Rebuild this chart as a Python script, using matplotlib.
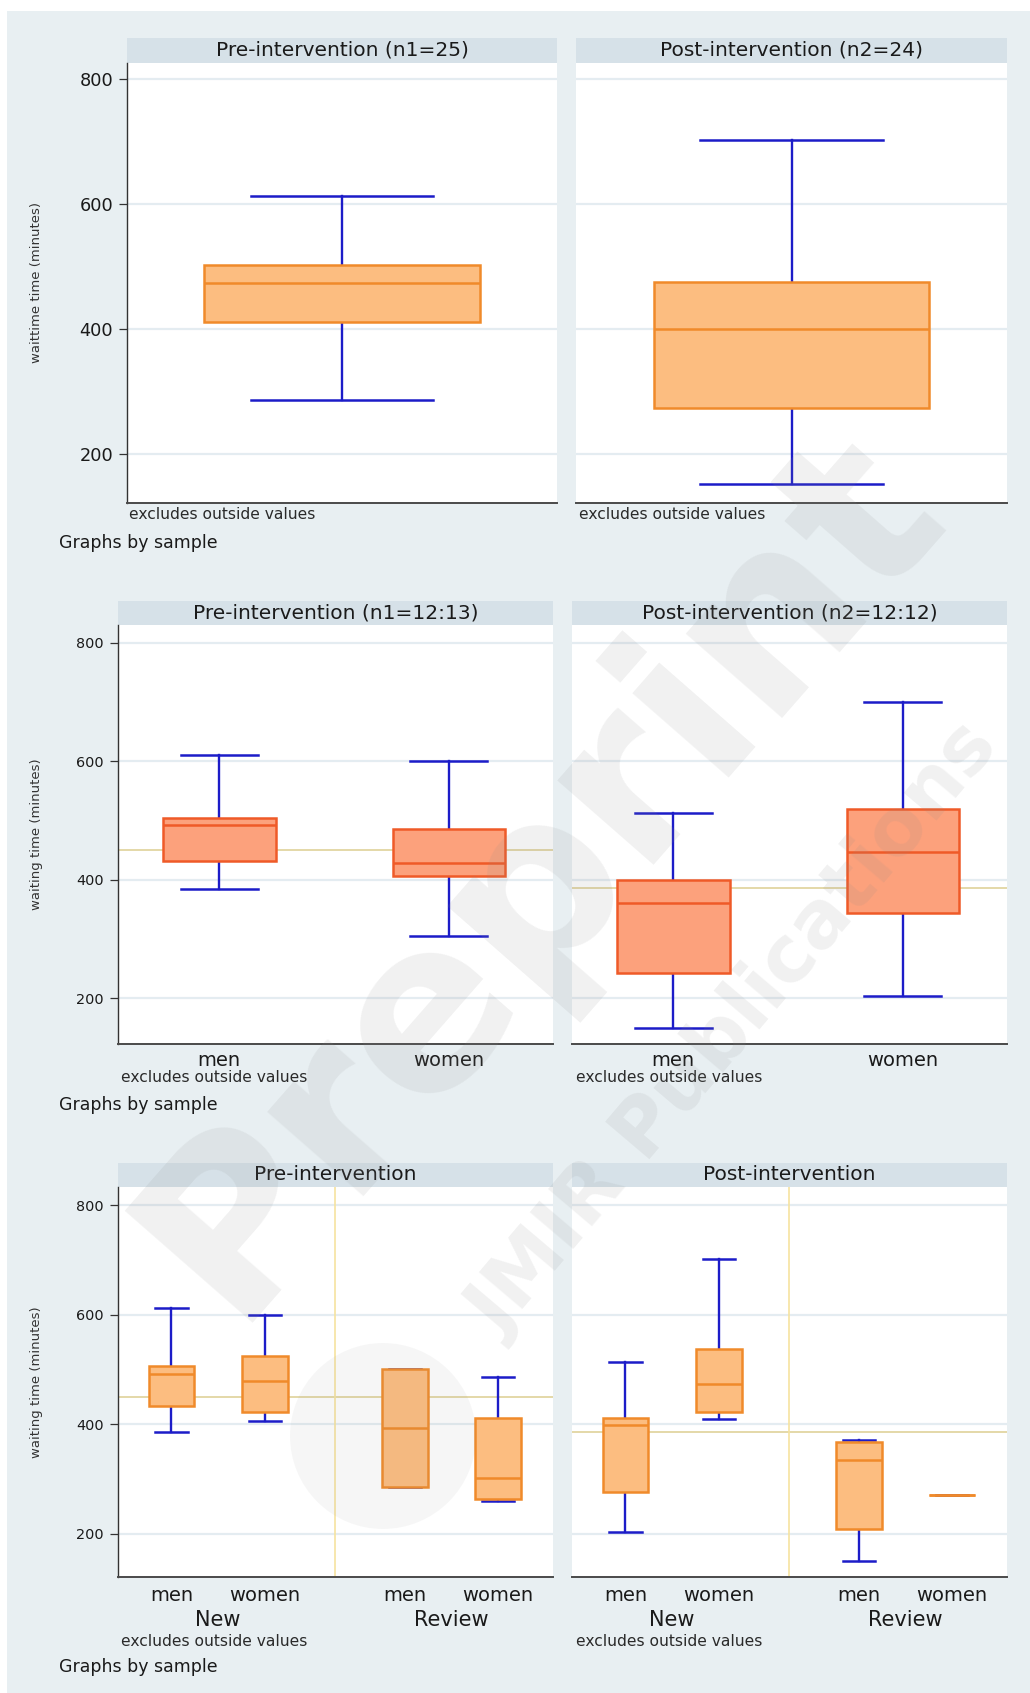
import matplotlib
matplotlib.use("Agg")
import matplotlib.pyplot as plt
from matplotlib.patches import Rectangle, Ellipse
from matplotlib.transforms import blended_transform_factory

W, H = 1030, 1693

# ---- waiting time summaries (minutes) ----
# overall, by sample
titles_all = ["Pre-intervention (n1=25)", "Post-intervention (n2=24)"]
lo_all = [286, 153]
q1_all = [412, 274]
med_all = [474, 400]
q3_all = [502, 475]
hi_all = [612, 702]

# by sex
sex_labels = ["men", "women"]
titles_sex = ["Pre-intervention (n1=12:13)", "Post-intervention (n2=12:12)"]
lo_sex = [[384, 304], [150, 203]]
q1_sex = [[431, 406], [242, 344]]
med_sex = [[493, 428], [360, 446]]
q3_sex = [[504, 486], [400, 519]]
hi_sex = [[610, 600], [512, 700]]

# by visit type and sex (New men, New women, Review men, Review women)
visit_types = ["New", "Review"]
titles_type = ["Pre-intervention", "Post-intervention"]
lo_type = [[385, 406, 285, 260], [203, 410, 151, 270]]
q1_type = [[434, 422, 285, 263], [276, 422, 209, 270]]
med_type = [[492, 478, 393, 302], [398, 474, 334, 270]]
q3_type = [[506, 525, 501, 412], [411, 537, 367, 270]]
hi_type = [[612, 599, 501, 487], [513, 702, 371, 270]]

# overall mean waiting time per sample
mean_wait = [450, 385]

yticks = [200, 400, 600, 800]

BG = "#e8eff2"
STRIP = "#d6e1e8"
WHISK = "#1c1cc8"
ORANGE_FACE, ORANGE_EDGE = "#fcbd80", "#f08a2a"
SALMON_FACE, SALMON_EDGE = "#fca17c", "#ef5a28"
MEANC = "#e4d8a8"
SEPC = "#f6e3a0"
GRIDC = "#e4ecf1"
WMARK = "#8c8c8c"

plt.rcParams["font.family"] = ["DejaVu Sans"]

fig = plt.figure(figsize=(W / 100, H / 100), dpi=100, facecolor="white")
fig.patches.append(Rectangle((7 / W, 0), 1 - 7 / W, 1 - 11 / H, transform=fig.transFigure,
                             facecolor=BG, edgecolor="none", zorder=-5))


def px_ax(left, top, right, bottom):
    return fig.add_axes([left / W, 1 - bottom / H, (right - left) / W, (bottom - top) / H])


def fy(y):
    return 1 - y / H


def stats_list(lo, q1, med, q3, hi):
    return [dict(whislo=a, q1=b, med=c, q3=d, whishi=e, fliers=[])
            for a, b, c, d, e in zip(lo, q1, med, q3, hi)]


def draw_row(xs, strip, plot, titles, stats, pos, xlim, ylim, bw, cw, face, edge,
             tick_fs, ylab, ylab_x, note_y, graphs_y, means=None, note_x=None):
    axes = []
    for i, (x0, x1) in enumerate(xs):
        st = px_ax(x0, strip[0], x1, strip[1])
        st.set_facecolor(STRIP)
        st.set_xticks([]); st.set_yticks([])
        for s in st.spines.values():
            s.set_visible(False)
        st.text(0.5, 0.5, titles[i], ha="center", va="center", fontsize=14.5,
                color="#1a1a1a", transform=st.transAxes)

        ax = px_ax(x0, plot[0], x1, plot[1])
        ax.set_facecolor("white")
        for y in yticks:
            ax.axhline(y, color=GRIDC, lw=1.6, zorder=0)
        if means is not None:
            ax.axhline(means[i], color=MEANC, lw=1.4, zorder=1)
        ax.bxp(stats[i], positions=pos, widths=bw, capwidths=cw, showfliers=False,
               patch_artist=True,
               boxprops=dict(facecolor=face, edgecolor=edge, linewidth=1.8, zorder=3),
               medianprops=dict(color=edge, linewidth=1.8, zorder=3.2),
               whiskerprops=dict(color=WHISK, linewidth=1.7, zorder=2),
               capprops=dict(color=WHISK, linewidth=1.8, zorder=2))
        ax.set_xlim(*xlim)
        ax.set_ylim(*ylim)
        ax.set_xticks([])
        for s in ("top", "right"):
            ax.spines[s].set_visible(False)
        ax.spines["bottom"].set_color("#4a4a4a")
        ax.spines["bottom"].set_linewidth(1.4)
        if i == 0:
            ax.spines["left"].set_color("#333333")
            ax.spines["left"].set_linewidth(1.0)
            ax.set_yticks(yticks)
            ax.tick_params(axis="y", length=6, width=0.9, color="#333333", pad=4,
                           labelsize=tick_fs, labelcolor="#1a1a1a")
            ax.set_ylabel(ylab, fontsize=9.5, color="#333333")
            ax.yaxis.set_label_coords((ylab_x - x0) / (x1 - x0), 0.5)
        else:
            ax.spines["left"].set_visible(False)
            ax.set_yticks([])
        nx = note_x[i] if note_x else x0 + 3
        fig.text(nx / W, fy(note_y), "excludes outside values", fontsize=11.2,
                 color="#2a2a2a", va="center", ha="left")
        axes.append(ax)
    fig.text(59 / W, fy(graphs_y), "Graphs by sample", fontsize=12.5, color="#1a1a1a",
             va="center", ha="left")
    return axes


# row 1: overall
draw_row([(127, 557), (576, 1007)], (38, 62.5), (62.5, 502.5), titles_all,
         [stats_list([lo_all[k]], [q1_all[k]], [med_all[k]], [q3_all[k]], [hi_all[k]])
          for k in range(2)],
         [0.5], (0, 1), (123, 826), 0.64, 0.425, ORANGE_FACE, ORANGE_EDGE,
         12.8, "waittime time (minutes)", 43, 514.5, 543, note_x=[129, 579])

# row 2: by sex
axes2 = draw_row([(118, 553), (572, 1007)], (601, 625), (625, 1043.6), titles_sex,
                 [stats_list(lo_sex[k], q1_sex[k], med_sex[k], q3_sex[k], hi_sex[k])
                  for k in range(2)],
                 [1, 2], (0.559, 2.453), (123, 830), 0.49, 0.335, SALMON_FACE, SALMON_EDGE,
                 10.4, "waiting time (minutes)", 43, 1078, 1105, means=mean_wait,
                 note_x=[121, 576])
for ax in axes2:
    tr = blended_transform_factory(ax.transData, fig.transFigure)
    for p, lab in zip([1, 2], sex_labels):
        ax.text(p, fy(1060), lab, transform=tr, ha="center", va="center",
                fontsize=14, color="#1a1a1a")

# row 3: by visit type and sex
pos3 = [1, 2, 3.5, 4.5]
axes3 = draw_row([(118, 553), (572, 1007)], (1163, 1187), (1187, 1577), titles_type,
                 [stats_list(lo_type[k], q1_type[k], med_type[k], q3_type[k], hi_type[k])
                  for k in range(2)],
                 pos3, (0.427, 5.09), (121, 833), 0.49, 0.345, ORANGE_FACE, ORANGE_EDGE,
                 10.4, "waiting time (minutes)", 43, 1641, 1667.5, means=mean_wait,
                 note_x=[121, 576])
for ax in axes3:
    ax.axvline(2.75, color=SEPC, lw=1.2, zorder=1)
    tr = blended_transform_factory(ax.transData, fig.transFigure)
    for p, lab in zip(pos3, sex_labels * 2):
        ax.text(p, fy(1595.5), lab, transform=tr, ha="center", va="center",
                fontsize=14, color="#1a1a1a")
    for p, lab in zip([1.5, 4.0], visit_types):
        ax.text(p, fy(1620.5), lab, transform=tr, ha="center", va="center",
                fontsize=15, color="#1a1a1a")

# preprint watermark
fig.patches.append(Ellipse((383 / W, fy(1436)), 186 / W, 186 / H, transform=fig.transFigure,
                           facecolor=WMARK, alpha=0.07, edgecolor="none", zorder=10))
fig.text(540 / W, fy(872), "Preprint", rotation=48.8, rotation_mode="anchor",
         fontsize=168, fontweight="bold", color=WMARK, alpha=0.12,
         ha="center", va="center", zorder=10)
fig.text(735 / W, fy(1030), "JMIR Publications", rotation=49.7, rotation_mode="anchor",
         fontsize=57, fontweight="bold", color=WMARK, alpha=0.12,
         ha="center", va="center", zorder=10)

fig.savefig("out.png", dpi=100, facecolor="white")
